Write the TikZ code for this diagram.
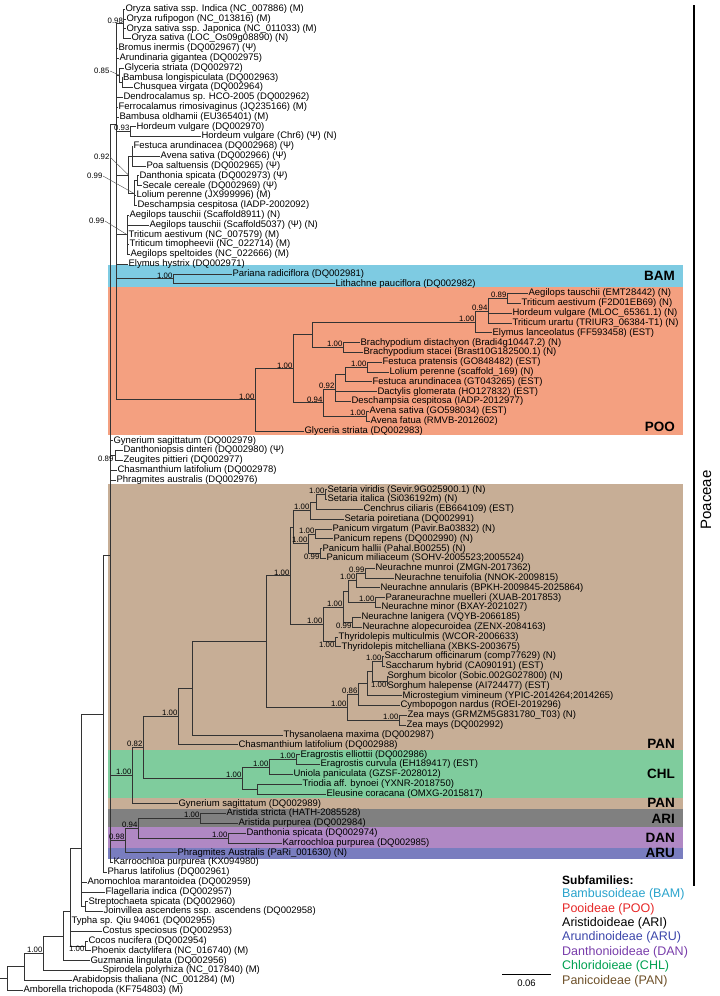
\documentclass[tikz,border=0pt]{standalone}
\usepackage{fontspec}
\setmainfont{Liberation Sans}
\usepackage{xcolor}
\usepackage{tikz}
\definecolor{bambg}{RGB}{126,203,226}
\definecolor{poobg}{RGB}{244,160,128}
\definecolor{panbg}{RGB}{199,174,150}
\definecolor{chlbg}{RGB}{127,204,157}
\definecolor{aribg}{RGB}{128,128,128}
\definecolor{danbg}{RGB}{176,136,196}
\definecolor{arubg}{RGB}{121,125,191}
\definecolor{bamtx}{RGB}{41,163,204}
\definecolor{pootx}{RGB}{230,40,40}
\definecolor{arutx}{RGB}{60,70,170}
\definecolor{dantx}{RGB}{120,60,170}
\definecolor{chltx}{RGB}{0,160,80}
\definecolor{pantx}{RGB}{110,80,40}

\begin{document}
\begin{tikzpicture}[
	x=1pt, y=-1pt,
	leaf/.style={anchor=west, inner sep=0.4pt, font=\fontsize{9.5}{11}\selectfont},
	supp/.style={anchor=south east, inner sep=0.4pt, font=\fontsize{7.8}{8}\selectfont},
	suppb/.style={supp, anchor=north east},
	branch/.style={draw=black!80, line width=0.6pt},
	lead/.style={draw=black!70, line width=0.4pt},
	clade/.style={anchor=east, inner sep=0pt, font=\fontsize{13.5}{14}\selectfont\bfseries},
	legend/.style={anchor=west, inner sep=0pt, font=\fontsize{12.5}{14}\selectfont}
	]
	\useasboundingbox (0,0) rectangle (720,996);
	\foreach \c/\ya/\yb in {bambg/265/287, poobg/287/435, panbg/484/750, chlbg/750/798,
		panbg/798/809, aribg/809/827, danbg/827/848, arubg/848/859}
		\fill[\c] (108,\ya) rectangle (683,\yb);
	\foreach \n/\x/\r/\lab in {
		tOsI/125/0/{Oryza sativa ssp. Indica (NC\_007886) (M)},
		tOru/126/1/{Oryza rufipogon (NC\_013816) (M)},
		tOsJ/126/2/{Oryza sativa ssp. Japonica (NC\_011033) (M)},
		tOsL/131/3/{Oryza sativa (LOC\_Os09g08890) (N)},
		tBin/118/4/{Bromus inermis (DQ002967) (Ψ)},
		tAgi/119/5/{Arundinaria gigantea (DQ002975)},
		tGst/124/6/{Glyceria striata (DQ002972)},
		tBlo/122.5/7/{Bambusa longispiculata (DQ002963)},
		tCvi/133/8/{Chusquea virgata (DQ002964)},
		tDsp/123/9/{Dendrocalamus sp. HCO-2005 (DQ002962)},
		tFri/118/10/{Ferrocalamus rimosivaginus (JQ235166) (M)},
		tBol/119/11/{Bambusa oldhamii (EU365401) (M)},
		tHv1/136/12/{Hordeum vulgare (DQ002970)},
		tHv2/201/13/{Hordeum vulgare (Chr6) (Ψ) (N)},
		tFar/133/14/{Festuca arundinacea (DQ002968) (Ψ)},
		tAsa/160/15/{Avena sativa (DQ002966) (Ψ)},
		tPsa/146/16/{Poa saltuensis (DQ002965) (Ψ)},
		tDs1/139/17/{Danthonia spicata (DQ002973) (Ψ)},
		tSce/142/18/{Secale cereale (DQ002969) (Ψ)},
		tLp1/136/19/{Lolium perenne (JX999996) (M)},
		tDc1/137/20/{Deschampsia cespitosa (IADP-2002092)},
		tAt1/129/21/{Aegilops tauschii (Scaffold8911) (N)},
		tAt2/149/22/{Aegilops tauschii (Scaffold5037) (Ψ) (N)},
		tTa1/128/23/{Triticum aestivum (NC\_007579) (M)},
		tTti/129/24/{Triticum timopheevii (NC\_022714) (M)},
		tAsp/130/25/{Aegilops speltoides (NC\_022666) (M)},
		tEhy/128/26/{Elymus hystrix (DQ002971)},
		tPra/232/27/{Pariana radiciflora (DQ002981)},
		tLpa/335/28/{Lithachne pauciflora (DQ002982)},
		tAt3/528/29/{Aegilops tauschii (EMT28442) (N)},
		tTa2/521/30/{Triticum aestivum (F2D01EB69) (N)},
		tHv3/512/31/{Hordeum vulgare (MLOC\_65361.1) (N)},
		tTur/512/32/{Triticum urartu (TRIUR3\_06384-T1) (N)},
		tEla/492/33/{Elymus lanceolatus (FF593458) (EST)},
		tBdi/360/34/{Brachypodium distachyon (Bradi4g10447.2) (N)},
		tBst/363/35/{Brachypodium stacei (Brast10G182500.1) (N)},
		tFpr/382/36/{Festuca pratensis (GO848482) (EST)},
		tLp2/389/37/{Lolium perenne (scaffold\_169) (N)},
		tFa2/372/38/{Festuca arundinacea (GT043265) (EST)},
		tDgl/377/39/{Dactylis glomerata (HO127832) (EST)},
		tDc2/351/40/{Deschampsia cespitosa (IADP-2012977)},
		tAs2/369/41/{Avena sativa (GO598034) (EST)},
		tAfa/370/42/{Avena fatua (RMVB-2012602)},
		tGs2/304/43/{Glyceria striata (DQ002983)},
		tGy1/113/44/{Gynerium sagittatum (DQ002979)},
		tDdi/123/45/{Danthoniopsis dinteri (DQ002980) (Ψ)},
		tZpi/123/46/{Zeugites pittieri (DQ002977)},
		tCh1/117/47/{Chasmanthium latifolium (DQ002978)},
		tPh1/116/48/{Phragmites australis (DQ002976)},
		tSvi/327/49/{Setaria viridis (Sevir.9G025900.1) (N)},
		tSit/327/50/{Setaria italica (Si036192m) (N)},
		tCci/363/51/{Cenchrus ciliaris (EB664109) (EST)},
		tSpo/344/52/{Setaria poiretiana (DQ002991)},
		tPvi/332/53/{Panicum virgatum (Pavir.Ba03832) (N)},
		tPre/333/54/{Panicum repens (DQ002990) (N)},
		tPha/322/55/{Panicum hallii (Pahal.B00255) (N)},
		tPmi/326/56/{Panicum miliaceum (SOHV-2005523;2005524)},
		tNmu/375/57/{Neurachne munroi (ZMGN-2017362)},
		tNte/394/58/{Neurachne tenuifolia (NNOK-2009815)},
		tNan/380/59/{Neurachne annularis (BPKH-2009845-2025864)},
		tPmu/385/60/{Paraneurachne muelleri (XUAB-2017853)},
		tNmi/381/61/{Neurachne minor (BXAY-2021027)},
		tNla/361/62/{Neurachne lanigera (VQYB-2066185)},
		tNal/362/63/{Neurachne alopecuroidea (ZENX-2084163)},
		tTmu/338/64/{Thyridolepis multiculmis (WCOR-2006633)},
		tTmi/341/65/{Thyridolepis mitchelliana (XBKS-2003675)},
		tSof/384/66/{Saccharum officinarum (comp77629) (N)},
		tShy/385/67/{Saccharum hybrid (CA090191) (EST)},
		tSbi/387/68/{Sorghum bicolor (Sobic.002G027800) (N)},
		tSha/387/69/{Sorghum halepense (AI724477) (EST)},
		tMvi/402/70/{Microstegium vimineum (YPIC-2014264;2014265)},
		tCna/400/71/{Cymbopogon nardus (ROEI-2019296)},
		tZm1/407/72/{Zea mays (GRMZM5G831780\_T03) (N)},
		tZm2/406/73/{Zea mays (DQ002992)},
		tTma/283/74/{Thysanolaena maxima (DQ002987)},
		tCh2/238/75/{Chasmanthium latifolium (DQ002988)},
		tEel/300/76/{Eragrostis elliottii (DQ002986)},
		tEcu/320/77/{Eragrostis curvula (EH189417) (EST)},
		tUpa/293/78/{Uniola paniculata (GZSF-2028012)},
		tTby/302/79/{Triodia aff. bynoei (YXNR-2018750)},
		tEco/326/80/{Eleusine coracana (OMXG-2015817)},
		tGy2/178/81/{Gynerium sagittatum (DQ002989)},
		tAst/226/82/{Aristida stricta (HATH-2085528)},
		tApu/238/83/{Aristida purpurea (DQ002984)},
		tDs2/246/84/{Danthonia spicata (DQ002974)},
		tKp1/282/85/{Karroochloa purpurea (DQ002985)},
		tPAu/177/86/{Phragmites Australis (PaRi\_001630) (N)},
		tKp2/113/87/{Karroochloa purpurea (KX094980)},
		tPla/107/88/{Pharus latifolius (DQ002961)},
		tAma/87/89/{Anomochloa marantoidea (DQ002959)},
		tFin/105/90/{Flagellaria indica (DQ002957)},
		tSsp/88/91/{Streptochaeta spicata (DQ002960)},
		tJas/103/92/{Joinvillea ascendens ssp. ascendens (DQ002958)},
		tTqi/71/93/{Typha sp. Qiu 94061 (DQ002955)},
		tCsp/102/94/{Costus speciosus (DQ002953)},
		tCnu/88/95/{Cocos nucifera (DQ002954)},
		tPda/91/96/{Phoenix dactylifera (NC\_016740) (M)},
		tGli/90/97/{Guzmania lingulata (DQ002956)},
		tSpy/102/98/{Spirodela polyrhiza (NC\_017840) (M)},
		tAth/72/99/{Arabidopsis thaliana (NC\_001284) (M)},
		tAmb/23/100/{Amborella trichopoda (KF754803) (M)}}
		\node[leaf] (\n) at (\x,{9+9.81*\r}) {\lab};
	\foreach \n/\x/\r in {root/7/98.81, n24/24/97.63, n43/43/96.26, n63/63/94.51, n70/70/92.02,
		n81/81/85.59, n103/103/71.85, nSJ/85/91.5, nCP/85/95.5, R/110/55.7, X/116/11.72,
		nOry/123.5/1.5, nA/119.5/6.75, nB/122/7.5, nH/130/12.5, nG/128.5/16.92, nF/132/15,
		nDL/134.5/18.83, nDS/137/17.5, nAe/127/23, nBAM/173/27.5, nPOO/255/39.83, nP1/293/36.67,
		nP2/312/33.21, nTrit/475/31.92, nP94/488/30.83, nP89/507/29.5, nBra/343/34.5, nP3/323/40.13,
		nP4/335/38.75, nP5/345/37.25, nFL/367/36.5, nAv/366/41.5, nDZ/115/45.5, nPC/132/78.12,
		nPA/143/75.25, nC1/178/72.12, nC2/192/69.24, nC3/266/64.48, nPn/290/57.77, nPa/293/52.81,
		nSe1/310/51.13, nSe2/316/50.25, nSe3/325/49.5, nPc1/308/54.5, nPc2/315/53.5, nPc3/320/55.5,
		nNT/323/62.72, nNB/343/60.94, nNA/348/59.38, nNC/356/58.25, nNM/365/57.5, nNP/375/60.5,
		nNL/352/62.5, nTh/335/64.5, nAn/347/71.19, nA86/358/69.88, nA1/367/68.75, nA2/372/67.5,
		nSac/382/66.5, nSor/387/68.5, nZea/399/72.5, nCHL/242/78.38, nCh1/269/77.25, nEra/296/76.5,
		nCh2/257/79.5, nAR/125/84.75, nAD/138/83.5, nAri/200/82.5, nDan/228/84.5}
		\coordinate (\n) at (\x,{9+9.81*\r});
	\coordinate (rootin) at (0,{9+9.81*98.81});
	\draw[branch] (rootin) -- (root);
	\foreach \p/\cs in {root/{n24,tAmb}, n24/{n43,tAth}, n43/{n63,tSpy}, n63/{n70,tGli},
		n70/{n81,tTqi,tCsp,nCP}, nCP/{tCnu,tPda}, n81/{n103,tAma,tFin,nSJ}, nSJ/{tSsp,tJas},
		n103/{R,tPla}, R/{X,tGy1,nDZ,tCh1,tPh1,nPC,nAR,tKp2}, nDZ/{tDdi,tZpi},
		X/{nOry,tBin,tAgi,nA,tDsp,tFri,tBol,nH,nG,nAe,tEhy,nBAM,nPOO},
		nOry/{tOsI,tOru,tOsJ,tOsL}, nA/{tGst,nB}, nB/{tBlo,tCvi}, nH/{tHv1,tHv2}, nG/{nF,nDL},
		nF/{tFar,tAsa,tPsa}, nDL/{nDS,tLp1,tDc1}, nDS/{tDs1,tSce}, nAe/{tAt1,tAt2,tTa1,tTti,tAsp},
		nBAM/{tPra,tLpa}, nPOO/{nP1,tGs2}, nP1/{nP2,nP3}, nP2/{nTrit,nBra}, nTrit/{nP94,tEla},
		nP94/{nP89,tHv3,tTur}, nP89/{tAt3,tTa2}, nBra/{tBdi,tBst}, nP3/{nP4,nAv},
		nP4/{nP5,tDgl,tDc2}, nP5/{nFL,tFa2}, nFL/{tFpr,tLp2}, nAv/{tAs2,tAfa},
		nPC/{nPA,tGy2}, nPA/{nC1,nCHL}, nC1/{nC2,tCh2}, nC2/{nC3,tTma}, nC3/{nPn,nAn},
		nPn/{nPa,nNT}, nPa/{nSe1,nPc1}, nSe1/{nSe2,tSpo}, nSe2/{nSe3,tCci}, nSe3/{tSvi,tSit},
		nPc1/{nPc2,nPc3}, nPc2/{tPvi,tPre}, nPc3/{tPha,tPmi}, nNT/{nNB,nTh}, nNB/{nNA,nNL},
		nNA/{nNC,nNP}, nNC/{nNM,tNan}, nNM/{tNmu,tNte}, nNP/{tPmu,tNmi}, nNL/{tNla,tNal},
		nTh/{tTmu,tTmi}, nAn/{nA86,nZea}, nA86/{nA1,tCna}, nA1/{nA2,tMvi}, nA2/{nSac,nSor},
		nSac/{tSof,tShy}, nSor/{tSbi,tSha}, nZea/{tZm1,tZm2}, nCHL/{nCh1,nCh2}, nCh1/{nEra,tUpa},
		nEra/{tEel,tEcu}, nCh2/{tTby,tEco}, nAR/{nAD,tPAu}, nAD/{nAri,nDan}, nAri/{tAst,tApu},
		nDan/{tDs2,tKp1}}
		{\foreach \c in \cs \draw[branch] (\p) |- (\c);}
	\foreach \n/\s in {nOry/0.98, nH/0.93, nBAM/1.00, nPOO/1.00, nP1/1.00, nTrit/1.00, nP94/0.94,
		nP89/0.89, nBra/1.00, nP3/0.94, nP4/0.92, nFL/1.00, nAv/1.00, nPC/1.00, nPA/0.82, nC1/1.00,
		nPn/1.00, nSe1/1.00, nSe3/1.00, nPc1/1.00, nPc2/1.00, nNT/1.00, nNB/1.00, nNC/1.00,
		nNM/0.99, nNP/1.00, nAn/1.00, nA86/0.86, nSac/1.00, nZea/1.00, nCHL/1.00, nCh1/1.00,
		nEra/1.00, nAR/0.98, nAD/0.94, nAri/1.00, nDan/1.00, n43/1.00}
		\node[supp] (s\n) at (\n) {\s};
	\foreach \n/\s in {nPc3/0.99, nNL/0.99, nTh/1.00, nSor/1.00, nCP/1.00}
		\node[suppb] (s\n) at (\n) {\s};
	\node[supp, anchor=east] (snDZ) at (114,459) {0.89};
	\node[supp, anchor=east] (q85) at (110,71) {0.85};
	\node[supp, anchor=east] (q92) at (110,157) {0.92};
	\node[supp, anchor=east] (q99a) at (103,176) {0.99};
	\node[supp, anchor=east] (q99b) at (105,221) {0.99};
	\draw[lead] (q85.east) -- (nA);
	\draw[lead] (q92.east) -- (nG);
	\draw[lead] (q99a.east) -- (nDL);
	\draw[lead] (q99b.east) -- (nAe);
	\foreach \n/\y in {BAM/275.5, POO/427, PAN/744, CHL/774, ARI/818.5, DAN/838, ARU/853}
		\node[clade] (c\n) at (675,\y) {\n};
	\node[clade] (cPANb) at (675,803) {PAN};
	\coordinate (pq1) at (694,5);
	\coordinate (pq2) at (694,886);
	\draw[line width=1.6pt] (pq1) -- (pq2);
	\node[rotate=90, inner sep=0pt, font=\fontsize{15}{15}\selectfont] (poa) at (706,500) {Poaceae};
	\coordinate (sb1) at (502,974);
	\coordinate (sb2) at (551,974);
	\draw[line width=0.7pt] (sb1) -- (sb2);
	\node[inner sep=0pt, font=\fontsize{9.5}{10}\selectfont] (sbl) at (526.5,983) {0.06};
	\node[legend, font=\fontsize{12}{14}\selectfont\bfseries] (lgh) at (562,880) {Subfamilies:};
	\foreach \i/\c/\lab in {1/bamtx/{Bambusoideae (BAM)}, 2/pootx/{Pooideae (POO)},
		3/black/{Aristidoideae (ARI)}, 4/arutx/{Arundinoideae (ARU)}, 5/dantx/{Danthonioideae (DAN)},
		6/chltx/{Chloridoieae (CHL)}, 7/pantx/{Panicoideae (PAN)}}
		\node[legend, text=\c] (lg\i) at (562,{880+14.4*\i}) {\lab};
\end{tikzpicture}
\end{document}
